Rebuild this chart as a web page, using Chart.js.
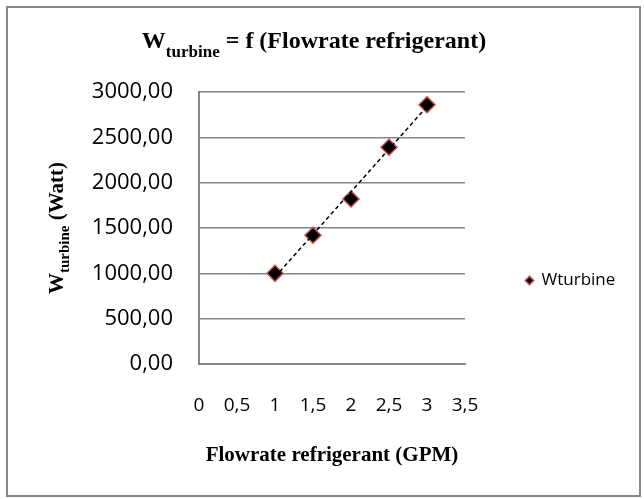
<!DOCTYPE html>
<html>
<head>
<meta charset="utf-8">
<script src="https://cdn.jsdelivr.net/npm/chart.js@4.4.0/dist/chart.umd.min.js"></script>
<style>
    html, body { margin: 0; padding: 0; background: #ffffff; }
    #contenedor { width: 644px; height: 499px; }
</style>
</head>
<body>
<div id="contenedor"><canvas id="graficoTurbina" width="644" height="499"></canvas></div>
<script>
// Datos
const caudales = [1, 1.5, 2, 2.5, 3];
const potencias = [1000, 1420, 1820, 2390, 2860];

// Línea de tendencia (extremos)
const tendenciaX = [1, 3];
const tendenciaY = [960, 2840];

const nombreSerie = 'Wturbine';
const fuenteTicks = { family: '"Open Sans"', size: 22 };
const colorGris = '#868686';

// Formato con coma decimal
function formatearY(valor) {
    return valor.toFixed(2).replace('.', ',');
}
function formatearX(valor) {
    return String(valor).replace('.', ',');
}

// Texto con subíndice (W_turbine)
function dibujarConSubindice(ctx, base, sub, resto, cx, y, tam, tamSub, bajada) {
    const fuente = t => `bold ${t}px "Liberation Serif"`;
    ctx.font = fuente(tam);
    const a1 = ctx.measureText(base).width;
    const a3 = ctx.measureText(resto).width;
    ctx.font = fuente(tamSub);
    const a2 = ctx.measureText(sub).width;
    let x = cx - (a1 + a2 + a3) / 2;
    ctx.textAlign = 'left';
    ctx.textBaseline = 'alphabetic';
    ctx.fillStyle = '#000';
    ctx.font = fuente(tam);
    ctx.fillText(base, x, y);
    x += a1;
    ctx.font = fuente(tamSub);
    ctx.fillText(sub, x, y + bajada);
    x += a2;
    ctx.font = fuente(tam);
    ctx.fillText(resto, x, y);
}

// Plugin para marco, título y título del eje Y
const textosExtra = {
    id: 'textosExtra',
    beforeDraw(chart) {
        const ctx = chart.ctx;
        ctx.save();
        ctx.fillStyle = '#fff';
        ctx.fillRect(0, 0, chart.width, chart.height);
        ctx.strokeStyle = colorGris;
        ctx.lineWidth = 2;
        ctx.strokeRect(7, 7, 633, 489);
        ctx.restore();
    },
    afterDraw(chart) {
        const ctx = chart.ctx;
        ctx.save();
        dibujarConSubindice(ctx, 'W', 'turbine', ' = f (Flowrate refrigerant)', 314, 48, 24, 17, 9);
        ctx.translate(63, 228);
        ctx.rotate(-Math.PI / 2);
        dibujarConSubindice(ctx, 'W', 'turbine', ' (Watt)', 0, 0, 21, 15, 6);
        ctx.restore();
    }
};

const ctxTurbina = document.getElementById('graficoTurbina').getContext('2d');
const graficoTurbina = new Chart(ctxTurbina, {
    type: 'scatter',
    data: {
        datasets: [
            {
                label: nombreSerie,
                data: caudales.map((c, i) => ({ x: c, y: potencias[i] })),
                pointStyle: 'rectRot',
                pointRadius: 8,
                pointHoverRadius: 8,
                pointBorderWidth: 1.5,
                backgroundColor: '#000000',
                borderColor: '#c0504d',
                order: 1
            },
            {
                type: 'line',
                label: 'Tendencia',
                data: tendenciaX.map((c, i) => ({ x: c, y: tendenciaY[i] })),
                borderColor: '#000000',
                borderWidth: 1.5,
                borderDash: [4, 3],
                pointRadius: 0,
                fill: false,
                order: 0
            }
        ]
    },
    options: {
        responsive: false,
        animation: false,
        layout: {
            padding: { top: 92, right: 24, bottom: 30, left: 0 }
        },
        plugins: {
            title: { display: false },
            tooltip: { enabled: false },
            legend: {
                position: 'right',
                labels: {
                    usePointStyle: true,
                    boxWidth: 7,
                    boxHeight: 6,
                    padding: 61,
                    color: '#000',
                    font: { family: '"Open Sans"', size: 17 },
                    filter: item => item.text === nombreSerie
                }
            }
        },
        scales: {
            x: {
                type: 'linear',
                min: 0,
                max: 3.5,
                ticks: {
                    stepSize: 0.5,
                    padding: 30,
                    color: '#000',
                    font: { family: '"Open Sans"', size: 19 },
                    callback: formatearX
                },
                grid: { display: false, drawTicks: false },
                border: { display: true, color: colorGris, width: 2 },
                title: {
                    display: true,
                    text: 'Flowrate refrigerant (GPM)',
                    color: '#000',
                    font: { family: '"Liberation Serif"', size: 21, weight: 'bold', lineHeight: 1 },
                    padding: { top: 20, bottom: 3 }
                },
                afterFit: escala => { escala.height = 105; }
            },
            y: {
                min: 0,
                max: 3000,
                ticks: {
                    stepSize: 500,
                    padding: 26,
                    color: '#000',
                    font: fuenteTicks,
                    callback: formatearY
                },
                grid: { color: colorGris, lineWidth: 1.5, drawTicks: false },
                border: { color: colorGris, width: 2 },
                afterFit: escala => { escala.width = 199; }
            }
        }
    },
    plugins: [textosExtra]
});
</script>
</body>
</html>
